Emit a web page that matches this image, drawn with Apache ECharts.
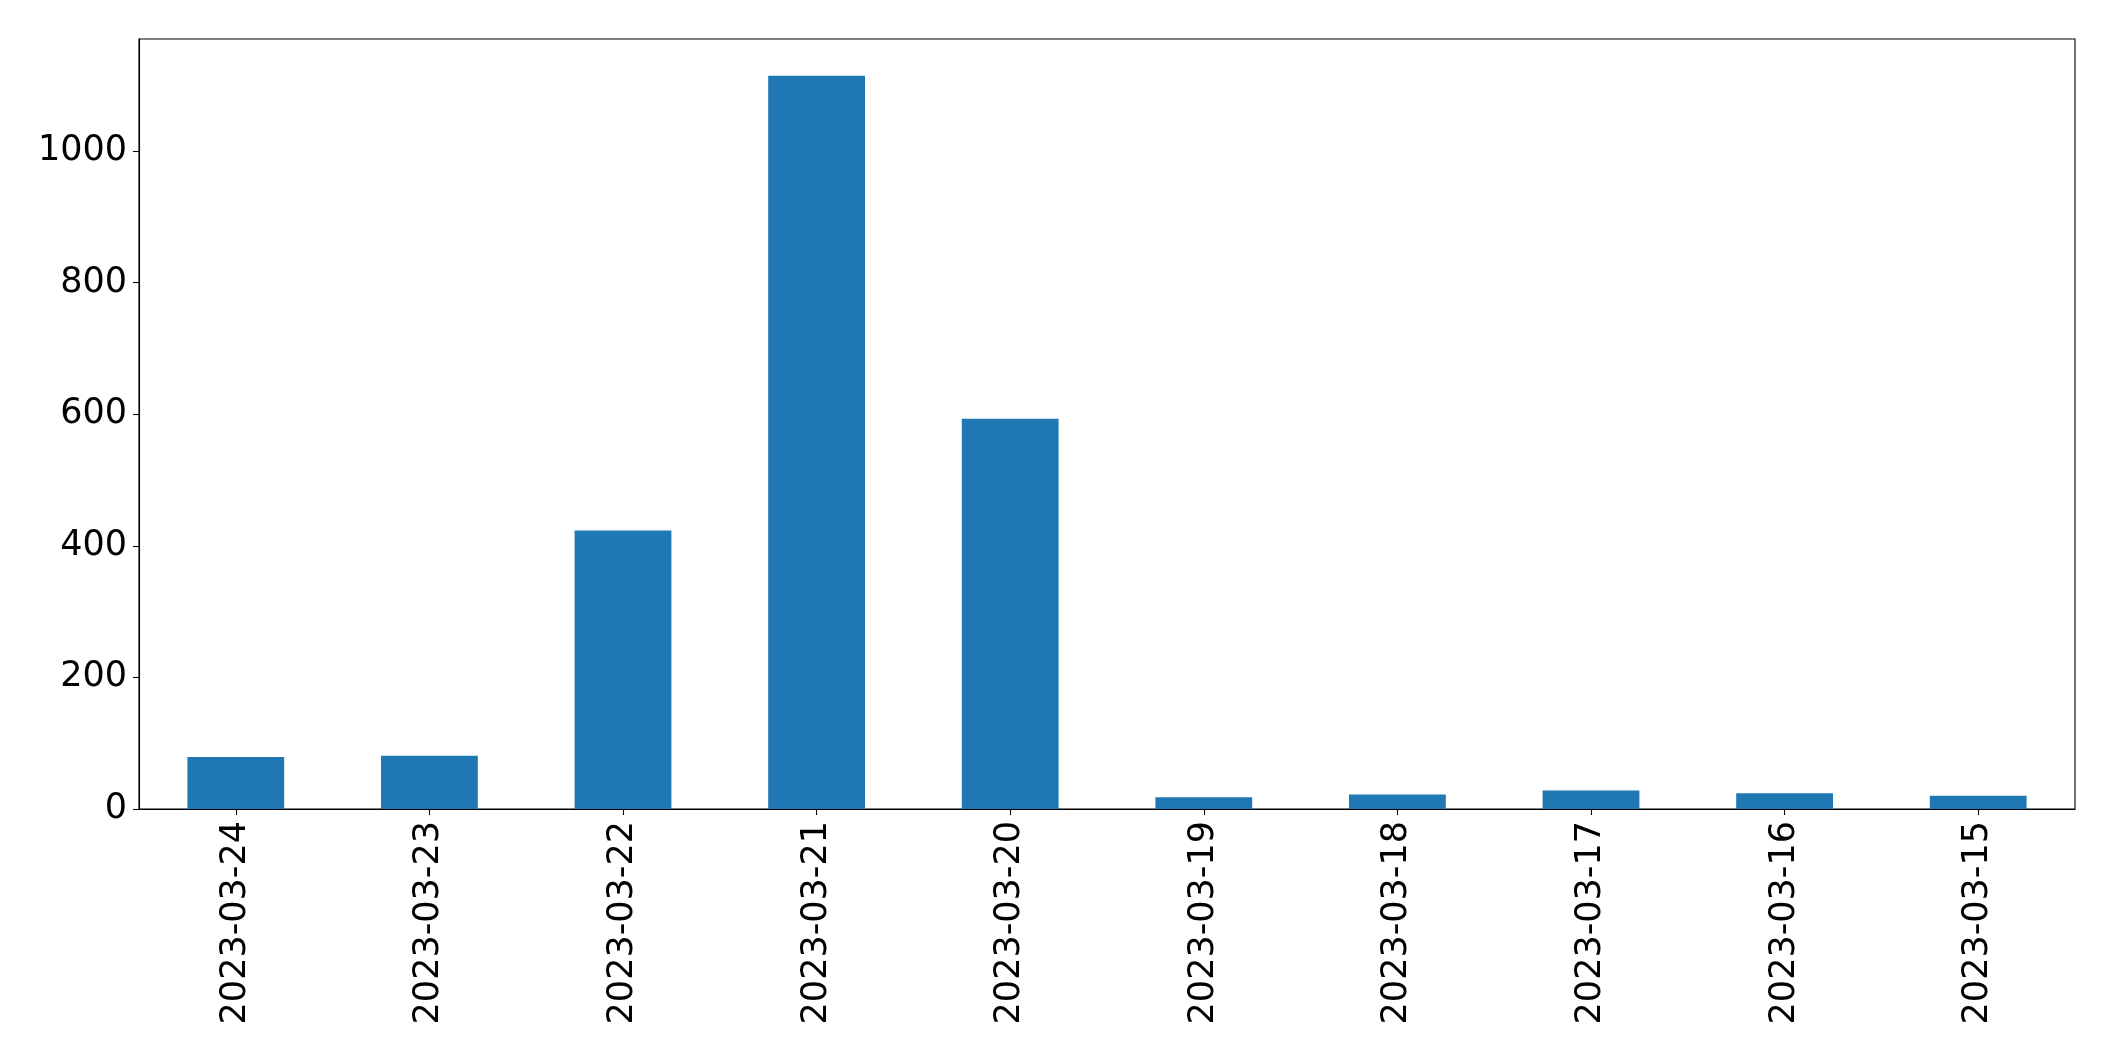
<!DOCTYPE html>
<html>
<head>
<meta charset="utf-8">
<script src="https://cdn.jsdelivr.net/npm/echarts@6/dist/echarts.min.js"></script>
<style>
html,body{margin:0;padding:0;background:#fff;}
#chart{width:2115px;height:1061px;}
</style>
</head>
<body>
<div id="chart"></div>
<script>
var categories = ['2023-03-24','2023-03-23','2023-03-22','2023-03-21','2023-03-20','2023-03-19','2023-03-18','2023-03-17','2023-03-16','2023-03-15'];
var counts = [79, 81, 423, 1114, 593, 18, 22, 28, 24, 20];
var yTicks = [0, 200, 400, 600, 800, 1000];
var yMax = 1170;

var chart = echarts.init(document.getElementById('chart'), null, {renderer: 'canvas'});
var font = 'DejaVu Sans';
chart.setOption({
  animation: false,
  backgroundColor: '#ffffff',
  grid: {
    left: 139, top: 39, width: 1936, height: 770,
    show: true, borderColor: '#000', borderWidth: 1.1, backgroundColor: 'transparent'
  },
  xAxis: {
    type: 'category',
    data: categories,
    boundaryGap: true,
    axisLine: {show: true, lineStyle: {color: '#000', width: 1.1}},
    axisTick: {show: true, alignWithLabel: true, length: 6, lineStyle: {color: '#000', width: 1.1}},
    axisLabel: {rotate: 90, margin: 12, color: '#000', fontFamily: font, fontSize: 35, interval: 0},
    splitLine: {show: false}
  },
  yAxis: {
    type: 'value',
    min: 0, max: yMax,
    axisLine: {show: true, lineStyle: {color: '#000', width: 1.1}},
    axisTick: {show: true, length: 6, customValues: yTicks, lineStyle: {color: '#000', width: 1.1}},
    axisLabel: {margin: 12, color: '#000', fontFamily: font, fontSize: 35, customValues: yTicks,
      formatter: function (v) { return String(v); }},
    splitLine: {show: false}
  },
  series: [{
    type: 'bar',
    data: counts,
    barWidth: '50%',
    itemStyle: {color: '#1f77b4'}
  }]
});
</script>
</body>
</html>
